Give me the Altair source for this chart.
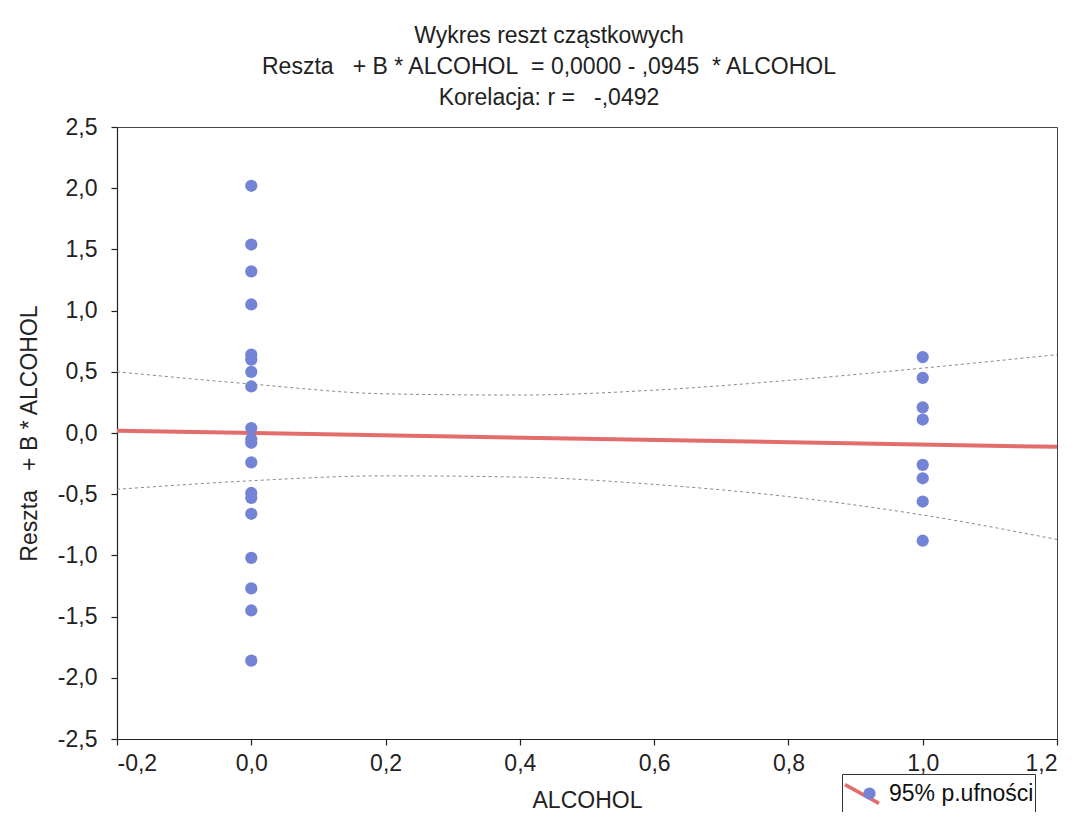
import altair as alt
import pandas as pd

# residual values
resid_at_0 = [2.02, 1.54, 1.32, 1.05, 0.64, 0.60, 0.50, 0.38, 0.04, -0.05, -0.08,
              -0.24, -0.49, -0.53, -0.66, -1.02, -1.27, -1.45, -1.86]
resid_at_1 = [0.62, 0.45, 0.21, 0.11, -0.26, -0.37, -0.56, -0.88]

# fitted line end points
fit_x = [-0.2, 1.2]
fit_y = [0.019, -0.113]

# 95% confidence band read at several x positions
band_x = [-0.2, 0.0, 0.2, 0.4, 0.6, 0.8, 1.0, 1.2]
band_upper = [0.50, 0.40, 0.32, 0.31, 0.35, 0.43, 0.53, 0.64]
band_lower = [-0.46, -0.39, -0.35, -0.36, -0.42, -0.52, -0.67, -0.87]

x_ticks = [-0.2, 0.0, 0.2, 0.4, 0.6, 0.8, 1.0, 1.2]
y_ticks = [-2.5, -2.0, -1.5, -1.0, -0.5, 0.0, 0.5, 1.0, 1.5, 2.0, 2.5]

legend_label = "95% p.ufności"
FONT = "Liberation Sans"
FS = 23
DOT = "#7383d6"
RED = "#e36d6d"
INK = "#222"

pts = pd.DataFrame({
    "ALCOHOL": [0.0] * len(resid_at_0) + [1.0] * len(resid_at_1),
    "resid": resid_at_0 + resid_at_1,
    "pt": ["dot"] * (len(resid_at_0) + len(resid_at_1)),
})
fit = pd.DataFrame({"ALCOHOL": fit_x, "resid": fit_y, "lab": [legend_label] * 2})
band = pd.DataFrame({
    "ALCOHOL": band_x + band_x,
    "resid": band_upper + band_lower,
    "bound": ["upper"] * len(band_x) + ["lower"] * len(band_x),
})

lab_expr = "replace(replace(format(datum.value, '.1f'), '.', ','), '\u2212', '-')"

xscale = alt.Scale(domain=[-0.2, 1.2], nice=False, zero=False)
yscale = alt.Scale(domain=[-2.5, 2.5], nice=False, zero=False)

common_axis = dict(
    grid=False, tickSize=6,
    labelFont=FONT, labelFontSize=FS, labelColor=INK,
    titleFont=FONT, titleFontSize=FS, titleFontWeight="normal", titleColor=INK,
    domainColor=INK, domainWidth=1.2, tickColor=INK, tickWidth=1.2,
)
xaxis = alt.Axis(values=x_ticks, labelExpr=lab_expr, title="ALCOHOL",
                 labelPadding=7, titlePadding=14, **common_axis)
yaxis = alt.Axis(values=y_ticks, labelExpr=lab_expr, title="Reszta\u00a0\u00a0 + B * ALCOHOL",
                 labelPadding=14, titlePadding=16, **common_axis)

x_enc = alt.X("ALCOHOL:Q", scale=xscale, axis=xaxis)
y_enc = alt.Y("resid:Q", scale=yscale, axis=yaxis)

band_layer = alt.Chart(band).mark_line(
    color="#8a8a8a", strokeWidth=1, strokeDash=[3, 3], interpolate="monotone"
).encode(x=x_enc, y=y_enc, detail="bound:N")

fit_layer = alt.Chart(fit).mark_line(strokeWidth=4).encode(
    x=x_enc, y=y_enc,
    stroke=alt.Stroke("lab:N", scale=alt.Scale(domain=[legend_label], range=[RED]),
                      legend=alt.Legend(orient="none", legendX=725, legendY=647, title=None,
                                        symbolType="M-1,-0.55L1,0.55", symbolSize=1156,
                                        symbolStrokeWidth=3.5, labelFontSize=FS, labelFont=FONT,
                                        labelColor="#111", strokeColor="#333", padding=1,
                                        labelOffset=8, labelLimit=400,
                                        labelExpr="datum.label + '\u00a0\u00a0\u00a0\u00a0\u00a0'")),
)

pt_layer = alt.Chart(pts).mark_circle(size=150, opacity=1).encode(
    x=x_enc, y=y_enc,
    fill=alt.Fill("pt:N", scale=alt.Scale(domain=["dot"], range=[DOT]),
                  legend=alt.Legend(orient="none", legendX=746, legendY=660, title=None,
                                    symbolType="circle", symbolSize=150, labelExpr="''",
                                    labelFontSize=1, padding=0, symbolStrokeWidth=0)),
)

chart = alt.layer(band_layer, fit_layer, pt_layer).resolve_scale(
    fill="independent", stroke="independent"
).properties(
    width=940, height=612,
    background="white",
    autosize=alt.AutoSizeParams(type="none"),
    padding={"left": 109, "top": 119, "right": 12, "bottom": 73},
    title=alt.TitleParams(
        text=["Wykres reszt cząstkowych",
              "Reszta\u00a0\u00a0 + B * ALCOHOL\u00a0 = 0,0000 - ,0945\u00a0 * ALCOHOL",
              "Korelacja: r =\u00a0\u00a0 -,0492"],
        fontSize=FS, font=FONT, fontWeight="normal", color=INK,
        lineHeight=31, anchor="middle", dx=-38, offset=6,
    ),
).configure_view(
    stroke="#444", strokeWidth=1
)

chart.save("out.html", embed_options={"renderer": "svg", "actions": False})
